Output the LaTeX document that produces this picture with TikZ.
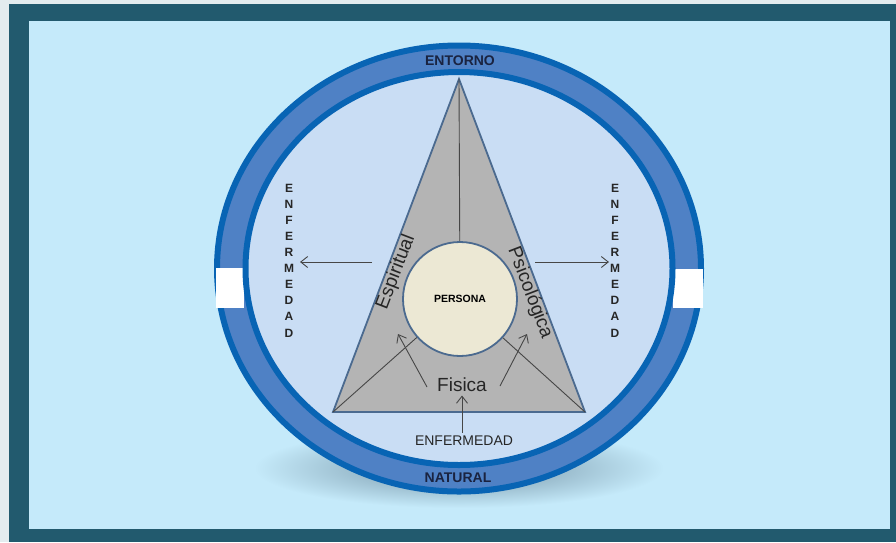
\documentclass[tikz,border=0pt]{standalone}
\usepackage{fontspec}
\setmainfont{Liberation Sans}
\usetikzlibrary{arrows.meta, positioning, calc}
\definecolor{pagegray}{RGB}{228,236,239}
\definecolor{frameteal}{RGB}{34,90,110}
\definecolor{skyblue}{RGB}{197,234,250}
\definecolor{ringdark}{RGB}{8,100,180}
\definecolor{ringmid}{RGB}{79,129,197}
\definecolor{innerblue}{RGB}{201,221,244}
\definecolor{trigray}{RGB}{180,180,180}
\definecolor{triedge}{RGB}{75,106,143}
\definecolor{personabeige}{RGB}{236,232,212}
\definecolor{shadowblue}{RGB}{112,142,160}
\definecolor{navytext}{RGB}{26,35,64}
\definecolor{linegray}{RGB}{70,70,70}

\begin{document}
\begin{tikzpicture}[x=1pt,y=-1pt,
  arr/.style={draw=linegray,line width=0.9pt,-{Straight Barb[length=7pt,width=11pt]}},
  thinline/.style={draw=linegray,line width=0.9pt},
  ringtext/.style={font=\fontsize{14}{14}\selectfont\bfseries,text=navytext},
  sidetext/.style={font=\fontsize{19}{19}\selectfont,text=black!85},
  column/.style={font=\fontsize{12}{16.1}\selectfont\bfseries,align=center,text=black!85,inner sep=0pt}]
\useasboundingbox (0,0) rectangle (896,542);

% Frame
\fill[pagegray] (0,0) rectangle (896,542);
\fill[frameteal] (9,4) rectangle (896,542);
\fill[skyblue] (29,21) rectangle (890,529);

% Shadow
\shade[inner color=shadowblue,outer color=skyblue] (459,468) ellipse [x radius=205, y radius=40];

% Ring
\fill[ringmid] (459,268.5) ellipse [x radius=242, y radius=223];
\draw[ringdark,line width=6pt] (459,268.5) ellipse [x radius=242, y radius=223];
\fill[white] (215.5,268) rectangle (244,308);
\fill[white] (673,269) rectangle (702.5,308);
\draw[ringdark,line width=6pt,fill=innerblue] (459,268.5) ellipse [x radius=213.5, y radius=196.5];

% Triangle
\coordinate (apex) at (459,79);
\coordinate (bl) at (333,412);
\coordinate (br) at (585,412);
\draw[triedge,line width=1.8pt,fill=trigray] (apex) -- (br) -- (bl) -- cycle;

% Persona
\node[draw=triedge,line width=1.8pt,fill=personabeige,circle,minimum size=114pt,inner sep=0pt,
  font=\fontsize{10.5}{10.5}\selectfont\bfseries] (persona) at (460,299) {PERSONA};
\draw[thinline] (apex) -- (persona);
\draw[thinline] (bl) -- (persona);
\draw[thinline] (br) -- (persona);

% Dimensions
\node[sidetext,rotate=69] (espiritual) at (396,272) {Espiritual};
\node[sidetext,rotate=-69] (psicologica) at (530,293) {Psicológica};
\node[sidetext] (fisica) at (462,385) {Fisica};

% Ring labels
\node[ringtext] (entorno) at (460,61) {ENTORNO};
\node[ringtext] (natural) at (458,477.5) {NATURAL};

% Enfermedad
\node[font=\fontsize{14}{14}\selectfont,text=black!85] (enfb) at (464,441) {ENFERMEDAD};
\node[column] (enfl) at (289,260.5) {E\\N\\F\\E\\R\\M\\E\\D\\A\\D};
\node[column] (enfr) at (615,260.5) {E\\N\\F\\E\\R\\M\\E\\D\\A\\D};

% Arrows
\coordinate (ltail) at (372,262);
\coordinate (ltip) at (300,262);
\coordinate (rtail) at (535,262);
\coordinate (rtip) at (609,262);
\coordinate (fltail) at (427,387);
\coordinate (fltip) at (398,334);
\coordinate (frtail) at (500,386);
\coordinate (frtip) at (527,334);
\draw[arr] (ltail) -- (ltip);
\draw[arr] (rtail) -- (rtip);
\draw[arr] (fltail) -- (fltip);
\draw[arr] (frtail) -- (frtip);
\draw[arr] (fisica.south |- enfb.north) -- (fisica.south);
\end{tikzpicture}
\end{document}
